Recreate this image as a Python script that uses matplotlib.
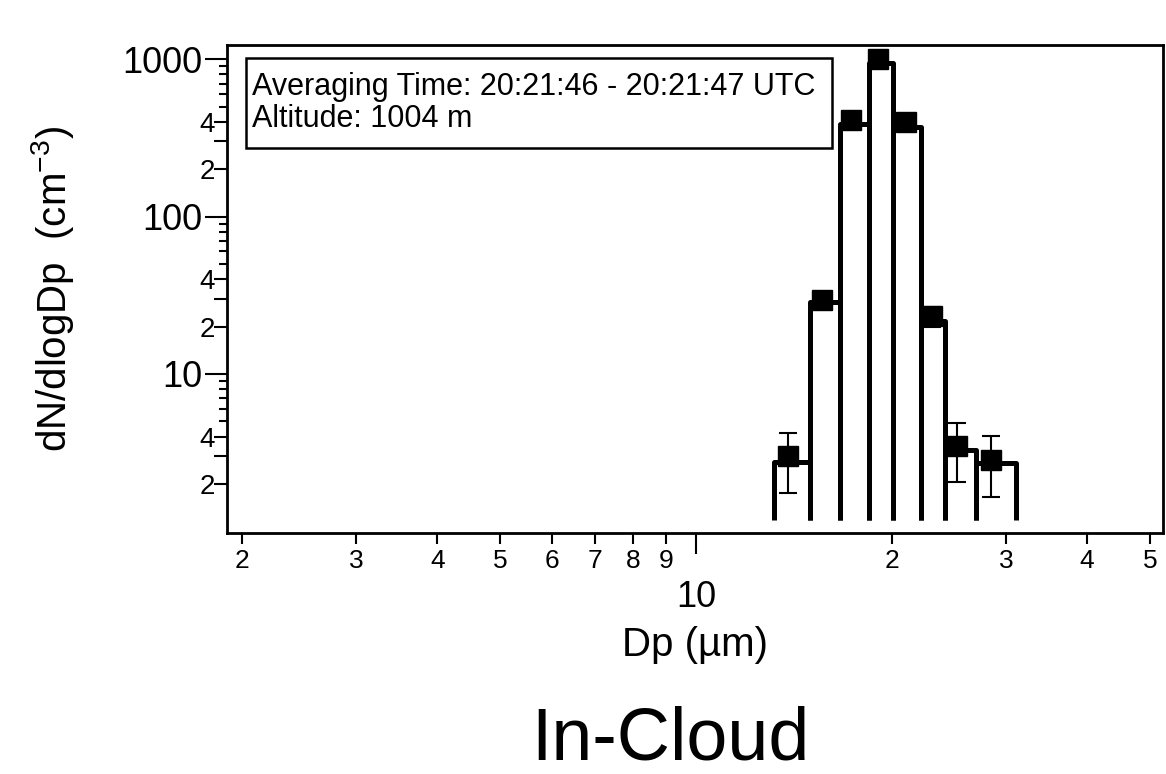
import matplotlib
matplotlib.use("Agg")
import matplotlib.pyplot as plt
from matplotlib.ticker import FixedLocator, FuncFormatter
from matplotlib.patches import Rectangle
import numpy as np

plt.rcParams['font.family'] = ['Liberation Sans', 'DejaVu Sans']
plt.rcParams['mathtext.fontset'] = 'custom'
plt.rcParams['mathtext.rm'] = 'Liberation Sans'
plt.rcParams['mathtext.default'] = 'regular'

# size bins (um) and concentrations (cm-3)
bin_edges = [13.2, 14.97, 16.66, 18.46, 20.12, 22.24, 24.16, 26.97, 31.07]
bar_conc = [2.77, 28.6, 387, 944, 372, 21.8, 3.28, 2.70]
dp_mid = [13.87, 15.61, 17.30, 19.05, 21.02, 23.05, 25.18, 28.50]
conc = [3.02, 29.6, 412, 1000, 397, 23.5, 3.49, 2.83]
conc_lo = [1.76, 27.5, 390, 960, 375, 19.8, 2.06, 1.66]
conc_hi = [4.19, 32.0, 435, 1040, 420, 26.5, 4.87, 4.05]
bar_base = 1.18

x_minor = [2, 3, 4, 5, 6, 7, 8, 9, 20, 30, 40, 50]
y_major = [10, 100, 1000]
y_minor = [m * d for d in (1, 10, 100) for m in range(2, 10)]

info_text = "Averaging Time: 20:21:46 - 20:21:47 UTC\nAltitude: 1004 m"

def lead(v):
    return int(round(v / 10 ** np.floor(np.log10(v))))

fig = plt.figure(figsize=(11.66, 7.74), dpi=100)
ax = fig.add_axes([227.3/1166, 1-532.7/774, 936/1166, 487.7/774])
ax.set_xscale('log')
ax.set_yscale('log')
ax.set_xlim(1.90, 52.4)
ax.set_ylim(0.98, 1230)

# open bars (no bottom line)
for i in range(len(bar_conc)):
    l, r = bin_edges[i], bin_edges[i+1]
    ax.plot([l, l, r, r], [bar_base, bar_conc[i], bar_conc[i], bar_base],
            color='k', lw=3.6, solid_joinstyle='round', solid_capstyle='butt', zorder=2)

yerr = [np.array(conc) - np.array(conc_lo), np.array(conc_hi) - np.array(conc)]
ax.errorbar(dp_mid, conc, yerr=yerr, fmt='s', color='k', ms=14.5, elinewidth=1.5,
            capsize=6.5, capthick=1.5, zorder=3)

for s in ax.spines.values():
    s.set_linewidth(2)

# x ticks
ax.xaxis.set_major_locator(FixedLocator([10]))
ax.xaxis.set_major_formatter(FuncFormatter(lambda v, p: "%d" % v))
ax.xaxis.set_minor_locator(FixedLocator(x_minor))
ax.xaxis.set_minor_formatter(FuncFormatter(lambda v, p: str(lead(v))))
ax.tick_params(axis='x', which='major', length=15, width=1.5, labelsize=26, pad=19, direction='out')
ax.tick_params(axis='x', which='minor', length=7.6, width=1.5, labelsize=19, pad=4, direction='out')

# y ticks
ax.yaxis.set_major_locator(FixedLocator(y_major))
ax.yaxis.set_major_formatter(FuncFormatter(lambda v, p: "%d" % v))
ax.yaxis.set_minor_locator(FixedLocator(y_minor))
ax.yaxis.set_minor_formatter(FuncFormatter(lambda v, p: str(lead(v)) if lead(v) in (2, 4) else ""))
ax.tick_params(axis='y', which='major', length=16, width=1.5, labelsize=26, pad=2, direction='out')
ax.tick_params(axis='y', which='minor', length=6, width=1.5, labelsize=20, pad=3, direction='out')
for t, v in zip(ax.yaxis.get_minor_ticks(len(y_minor)), y_minor):
    if lead(v) in (2, 3, 4):
        t.tick1line.set_markersize(9.5)

ax.set_xlabel("Dp (µm)", fontsize=29)
ax.xaxis.set_label_coords(0.5, -0.23)
ax.xaxis.label.set_va('center')
ax.set_ylabel("dN/dlogDp  (cm$^{-3}$)", fontsize=29)
ax.yaxis.set_label_coords(-0.187, 0.5)
ax.yaxis.label.set_va('center')

# info box
ax.add_patch(Rectangle((0.020, 0.7888), 0.626, 0.1846, transform=ax.transAxes,
                       fc='white', ec='black', lw=1.8, zorder=4))
ax.text(0.0264, 0.881, info_text, transform=ax.transAxes, fontsize=22, va='center',
        ha='left', linespacing=1.08, zorder=5)

fig.text(670/1166, 1-760/774, "In-Cloud", fontsize=53, ha='center', va='baseline')

fig.savefig("out.png", dpi=100)
